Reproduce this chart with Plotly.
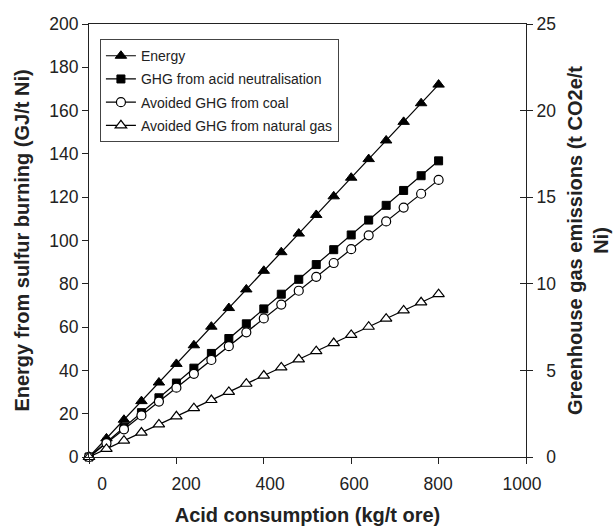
import plotly.graph_objects as go

acid = [0, 40, 80, 120, 160, 200, 240, 280, 320, 360, 400, 440, 480, 520, 560, 600, 640, 680, 720, 760, 800]
energy = [0, 8.6, 17.2, 25.8, 34.4, 43.0, 51.6, 60.2, 68.8, 77.4, 86.0, 94.6, 103.2, 111.8, 120.4, 129.0, 137.6, 146.2, 154.8, 163.4, 172.0]
ghg_acid = [0, 0.85, 1.71, 2.56, 3.42, 4.27, 5.13, 5.98, 6.84, 7.69, 8.55, 9.40, 10.26, 11.11, 11.97, 12.82, 13.68, 14.53, 15.39, 16.24, 17.1]
ghg_coal = [0, 0.80, 1.60, 2.40, 3.20, 4.00, 4.80, 5.60, 6.40, 7.20, 8.00, 8.80, 9.60, 10.40, 11.20, 12.00, 12.80, 13.60, 14.40, 15.20, 16.0]
ghg_gas = [0, 0.47, 0.94, 1.41, 1.88, 2.35, 2.82, 3.29, 3.76, 4.23, 4.70, 5.17, 5.64, 6.11, 6.58, 7.05, 7.52, 7.99, 8.46, 8.93, 9.4]

x_ticks = [0, 200, 400, 600, 800, 1000]
x_labels = ["0", "200", "400", "600", "800", "1000"]
y_ticks = [0, 20, 40, 60, 80, 100, 120, 140, 160, 180, 200]
y2_ticks = [0, 5, 10, 15, 20, 25]
y2_labels = ["\u20070", "\u20075", "10", "15", "20", "25"]

FONT = "Liberation Sans, Arial, sans-serif"
TXT = "#222"
line = dict(color="black", width=1.2)

fig = go.Figure()
fig.add_trace(go.Scatter(x=acid, y=energy, name="Energy", mode="lines+markers",
                         legendgroup="a", line=line, cliponaxis=False,
                         marker=dict(symbol="triangle-up", size=10, color="black",
                                     line=dict(color="black", width=1))))
fig.add_trace(go.Scatter(x=acid, y=ghg_acid, name="GHG from acid neutralisation", mode="lines+markers",
                         legendgroup="b", yaxis="y2", line=line, cliponaxis=False,
                         marker=dict(symbol="square", size=8, color="black",
                                     line=dict(color="black", width=1))))
fig.add_trace(go.Scatter(x=acid, y=ghg_coal, name="Avoided GHG from coal", mode="lines+markers",
                         legendgroup="c", yaxis="y2", line=line, cliponaxis=False,
                         marker=dict(symbol="circle", size=9, color="white",
                                     line=dict(color="black", width=1.2))))
fig.add_trace(go.Scatter(x=acid, y=ghg_gas, name="Avoided GHG from natural gas", mode="lines+markers",
                         legendgroup="d", yaxis="y2", line=line, cliponaxis=False,
                         marker=dict(symbol="triangle-up", size=10, color="white",
                                     line=dict(color="black", width=1.2))))

tick_font = dict(family=FONT, size=17.5, color=TXT)
axis_common = dict(showgrid=False, zeroline=False, showline=True, linecolor=TXT, linewidth=1.2,
                   ticks="outside", ticklen=6, tickcolor=TXT, tickwidth=1, tickfont=tick_font,
                   automargin=False)
title_font = dict(family=FONT, size=20, color=TXT)

fig.update_layout(
    width=616, height=527,
    margin=dict(l=89, r=90, t=24, b=70),
    paper_bgcolor="white", plot_bgcolor="white",
    font=dict(family=FONT, color=TXT),
    showlegend=True,
    legend=dict(x=0.025, y=0.965, xanchor="left", yanchor="top",
                bgcolor="white", bordercolor="#444", borderwidth=1,
                font=dict(family=FONT, size=14, color=TXT),
                tracegroupgap=2, itemwidth=30),
    # tick marks and frame
    xaxis=dict(range=[0, 1000], tickvals=x_ticks, mirror=True, showticklabels=False,
               **axis_common),
    # tick labels and title (labels in the original sit on a slightly narrower spacing)
    xaxis2=dict(range=[-31, 1009.5], overlaying="x", side="bottom", anchor="y",
                tickvals=x_ticks, ticktext=x_labels, tickfont=tick_font,
                showgrid=False, zeroline=False, showline=False, automargin=False,
                ticks="outside", ticklen=11, tickcolor="rgba(0,0,0,0)",
                title=dict(text="<b>Acid consumption (kg/t ore)</b>", standoff=14, font=title_font)),
    yaxis=dict(range=[0, 200], tickvals=y_ticks,
               title=dict(text="<b>Energy from sulfur burning (GJ/t Ni)</b>", standoff=14, font=title_font),
               **axis_common),
    yaxis2=dict(range=[0, 25], tickvals=y2_ticks, ticktext=y2_labels, overlaying="y", side="right",
                title=dict(text="<b>Greenhouse gas emissions (t CO2e/t<br>Ni)</b>", standoff=12, font=title_font),
                **axis_common),
    yaxis3=dict(range=[0, 25], tickvals=y2_ticks, overlaying="y", side="right", anchor="x",
                showgrid=False, zeroline=False, showline=False, showticklabels=False, automargin=False,
                ticks="inside", ticklen=6, tickcolor=TXT, tickwidth=1),
)
# invisible traces that activate the overlay axes
fig.add_trace(go.Scatter(x=[None], y=[None], yaxis="y3", showlegend=False, hoverinfo="skip"))
fig.add_trace(go.Scatter(x=[None], y=[None], xaxis="x2", showlegend=False, hoverinfo="skip"))

fig.write_html("out.html")
